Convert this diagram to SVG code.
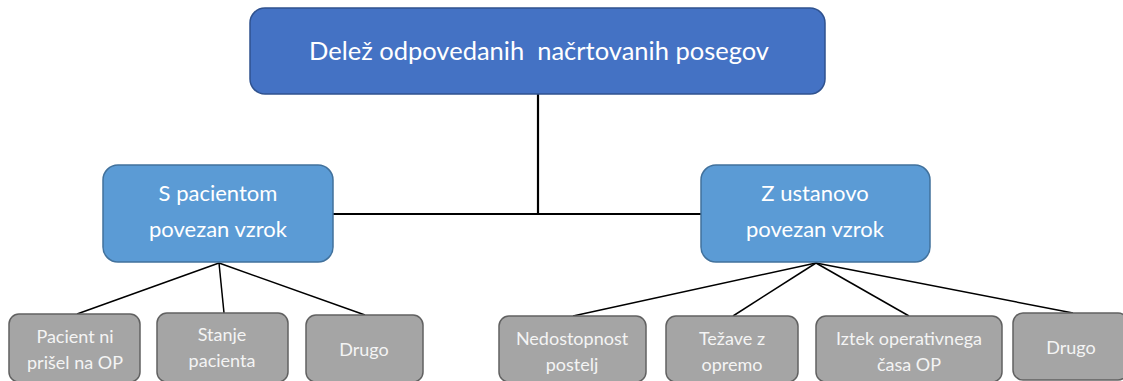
<svg xmlns="http://www.w3.org/2000/svg" width="1123" height="381" viewBox="0 0 1123 381">
<style>
.top{fill:#4472C4;stroke:#2F528F;stroke-width:1.5}
.mid{fill:#5B9BD5;stroke:#41719C;stroke-width:1.5}
.leaf{fill:#A5A5A5;stroke:#616161;stroke-width:1.5}
.t{font-family:Lato,"Open Sans",sans-serif;fill:#FFFFFF;text-anchor:middle}
.tl{font-family:Lato,"Open Sans",sans-serif;fill:#F4F4F4;text-anchor:middle;font-size:18px}
.c{stroke:#000;fill:none}
</style>
<g id="connectors">
<line class="c" x1="538" y1="94" x2="538" y2="214" stroke-width="2.2"/>
<line class="c" x1="333" y1="214" x2="701" y2="214" stroke-width="2.2"/>
<line class="c" x1="219" y1="263" x2="77" y2="314" stroke-width="1.5"/>
<line class="c" x1="219" y1="263" x2="224" y2="313" stroke-width="1.5"/>
<line class="c" x1="219" y1="263" x2="365" y2="315" stroke-width="1.5"/>
<line class="c" x1="816" y1="263" x2="573" y2="316" stroke-width="1.5"/>
<line class="c" x1="816" y1="263" x2="733" y2="316" stroke-width="1.5"/>
<line class="c" x1="816" y1="263" x2="909" y2="316" stroke-width="1.5"/>
<line class="c" x1="816" y1="263" x2="1073" y2="313" stroke-width="1.5"/>
</g>
<g id="root">
<rect class="top" x="250" y="8" width="575" height="86" rx="15"/>
<text class="t" x="539" y="60" font-size="25.5" xml:space="preserve">Delež odpovedanih  načrtovanih posegov</text>
</g>
<g id="patient">
<rect class="mid" x="103" y="165" width="230" height="97" rx="15"/>
<text class="t" x="218" y="201" font-size="22">S pacientom</text>
<text class="t" x="218" y="237" font-size="22">povezan vzrok</text>
</g>
<g id="institution">
<rect class="mid" x="701" y="165" width="229" height="97" rx="15"/>
<text class="t" x="815" y="201" font-size="22">Z ustanovo</text>
<text class="t" x="815" y="237" font-size="22">povezan vzrok</text>
</g>
<g id="p1">
<rect class="leaf" x="9" y="314" width="131" height="68" rx="10"/>
<text class="tl" x="75" y="343">Pacient ni</text>
<text class="tl" x="75" y="369">prišel na OP</text>
</g>
<g id="p2">
<rect class="leaf" x="157" y="313" width="131" height="69" rx="10"/>
<text class="tl" x="222" y="341">Stanje</text>
<text class="tl" x="222" y="367">pacienta</text>
</g>
<g id="p3">
<rect class="leaf" x="306" y="315" width="117" height="67" rx="10"/>
<text class="tl" x="364" y="356">Drugo</text>
</g>
<g id="i1">
<rect class="leaf" x="499" y="316" width="147" height="66" rx="10"/>
<text class="tl" x="572" y="345">Nedostopnost</text>
<text class="tl" x="572" y="371">postelj</text>
</g>
<g id="i2">
<rect class="leaf" x="666" y="316" width="132" height="66" rx="10"/>
<text class="tl" x="732" y="345">Težave z</text>
<text class="tl" x="732" y="371">opremo</text>
</g>
<g id="i3">
<rect class="leaf" x="816" y="316" width="186" height="66" rx="10"/>
<text class="tl" x="909" y="345">Iztek operativnega</text>
<text class="tl" x="909" y="371">časa OP</text>
</g>
<g id="i4">
<rect class="leaf" x="1013" y="313" width="115" height="67" rx="10"/>
<text class="tl" x="1071" y="354">Drugo</text>
</g>
</svg>
